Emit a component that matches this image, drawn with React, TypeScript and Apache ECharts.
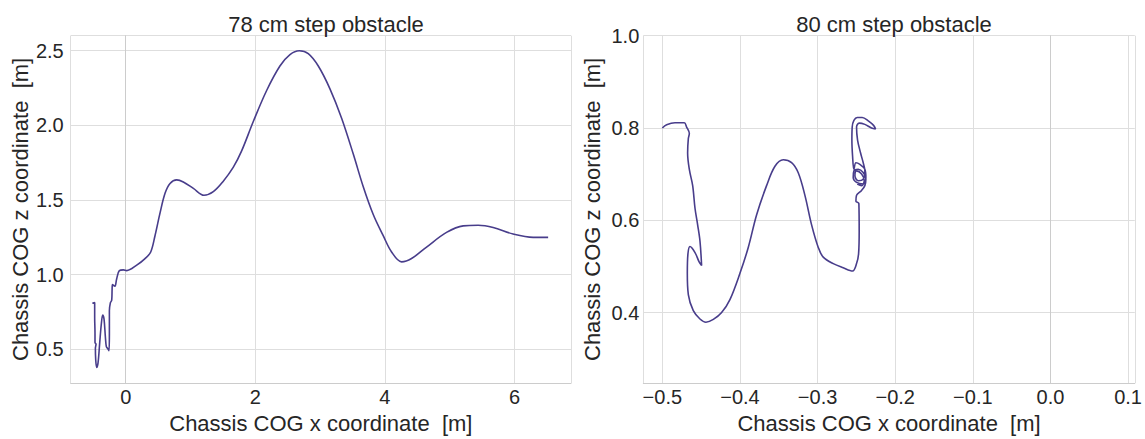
import React, { useEffect, useRef } from "react";
import * as echarts from "echarts";

const titles = ["78 cm step obstacle", "80 cm step obstacle"];
const xAxisName = "Chassis COG x coordinate  [m]";
const yAxisName = "Chassis COG z coordinate  [m]";

// 78 cm step: chassis COG trajectory [x, z]
const leftX = [
  -0.515, -0.479, -0.479, -0.474, -0.474, -0.458, -0.468, -0.463, -0.448, -0.427,
  -0.402, -0.376, -0.355, -0.335, -0.314, -0.299, -0.278, -0.258, -0.252, -0.252,
  -0.237, -0.216, -0.21, -0.205, -0.18, -0.165, -0.14, -0.098, -0.036, 0.015,
  0.17, 0.298, 0.386, 0.452, 0.53, 0.607, 0.684, 0.787, 0.889, 1.044,
  1.208, 1.352, 1.506, 1.661, 1.789, 1.969, 2.175, 2.38, 2.535, 2.679,
  2.817, 2.972, 3.152, 3.332, 3.512, 3.666, 3.82, 3.974, 4.103, 4.257,
  4.411, 4.643, 4.951, 5.208, 5.44, 5.671, 5.979, 6.288, 6.519,
];
const leftZ = [
  0.808, 0.812, 0.714, 0.605, 0.544, 0.534, 0.506, 0.429, 0.377, 0.408,
  0.539, 0.67, 0.729, 0.703, 0.583, 0.517, 0.504, 0.489, 0.605, 0.757,
  0.81, 0.828, 0.9, 0.932, 0.925, 0.921, 0.97, 1.026, 1.031, 1.026,
  1.063, 1.107, 1.151, 1.26, 1.413, 1.544, 1.61, 1.634, 1.62, 1.577,
  1.531, 1.555, 1.625, 1.719, 1.828, 2.025, 2.233, 2.397, 2.473, 2.499,
  2.48, 2.397, 2.244, 2.047, 1.807, 1.588, 1.402, 1.26, 1.151, 1.085,
  1.107, 1.184, 1.282, 1.326, 1.33, 1.315, 1.271, 1.249, 1.249,
];

// 80 cm step: chassis COG trajectory [x, z]
const rightX = [
  -0.5, -0.4944, -0.4837, -0.4717, -0.4687, -0.4652, -0.4665, -0.4674, -0.4652, -0.4609,
  -0.4579, -0.4545, -0.4515, -0.4494, -0.4524, -0.4579, -0.4644, -0.467, -0.4678, -0.4665,
  -0.4601, -0.4515, -0.4438, -0.4343, -0.4236, -0.4129, -0.4, -0.3893, -0.3785, -0.3657,
  -0.3549, -0.3442, -0.3335, -0.3249, -0.3163, -0.3077, -0.2991, -0.2927, -0.2798, -0.267,
  -0.2549, -0.2498, -0.2472, -0.2464, -0.2468, -0.2506, -0.2498, -0.2433, -0.2391, -0.2378,
  -0.2412, -0.2476, -0.2532, -0.2541, -0.2498, -0.2412, -0.2378, -0.2391, -0.2455, -0.2506,
  -0.2532, -0.2549, -0.2558, -0.2554, -0.2532, -0.2489, -0.2425, -0.2343, -0.2279, -0.2253,
  -0.2305, -0.2391, -0.2464, -0.2498, -0.2485, -0.2446, -0.2412, -0.2391, -0.2412, -0.2476,
  -0.2519, -0.2498, -0.2433, -0.2399, -0.2433, -0.2489,
];
const rightZ = [
  0.8, 0.807, 0.8113, 0.8113, 0.802, 0.788, 0.777, 0.746, 0.71, 0.675,
  0.626, 0.59, 0.555, 0.502, 0.509, 0.53, 0.543, 0.527, 0.485, 0.439,
  0.404, 0.386, 0.379, 0.385, 0.4, 0.428, 0.485, 0.541, 0.612, 0.675,
  0.717, 0.731, 0.725, 0.703, 0.654, 0.59, 0.541, 0.52, 0.506, 0.497,
  0.49, 0.506, 0.527, 0.576, 0.636, 0.6413, 0.654, 0.6646, 0.6751, 0.6892,
  0.7034, 0.7104, 0.7069, 0.6928, 0.6822, 0.6787, 0.6928, 0.7104, 0.721, 0.7245,
  0.7104, 0.7386, 0.7739, 0.8021, 0.8162, 0.8226, 0.8226, 0.8148, 0.8056, 0.7979,
  0.8, 0.8078, 0.8106, 0.8021, 0.7739, 0.7457, 0.7245, 0.7069, 0.6892, 0.6857,
  0.6963, 0.7069, 0.7, 0.6857, 0.6751, 0.6787,
];

const FONT = "'Liberation Sans', Arial, sans-serif";
const TEXT = "#262626";
const GRID = "#dedede";
const EDGE = "#cccccc";
const LINE = "#483d8b";

const minus = (s: string) => s.replace("-", "\u2212");

function axisCommon(extra: any) {
  return {
    type: "value",
    axisLine: { show: true, lineStyle: { color: EDGE, width: 1 } },
    axisTick: { show: false },
    splitLine: { show: true, lineStyle: { color: GRID, width: 1 } },
    nameLocation: "middle",
    nameTextStyle: { fontFamily: FONT, fontSize: 22, color: TEXT },
    ...extra,
  };
}

export default function App() {
  const ref = useRef<HTMLDivElement>(null);
  useEffect(() => {
    if (!ref.current) return;
    const chart = echarts.init(ref.current, undefined, { renderer: "svg" });
    const leftData = leftX.map((x, i) => [x, leftZ[i]]);
    const rightData = rightX.map((x, i) => [x, rightZ[i]]);
    const labelBase = { fontFamily: FONT, fontSize: 20, color: TEXT };
    chart.setOption({
      animation: false,
      backgroundColor: "#ffffff",
      title: [
        {
          text: titles[0],
          left: 321,
          top: 8,
          textAlign: "center",
          textStyle: { fontFamily: FONT, fontSize: 22, fontWeight: "normal", color: TEXT },
        },
        {
          text: titles[1],
          left: 889,
          top: 8,
          textAlign: "center",
          textStyle: { fontFamily: FONT, fontSize: 22, fontWeight: "normal", color: TEXT },
        },
      ],
      grid: [
        { left: 70.7, top: 35.7, width: 500.3, height: 355, containLabel: false },
        { left: 643.3, top: 35.7, width: 491.7, height: 355, containLabel: false },
      ],
      xAxis: [
        axisCommon({
          gridIndex: 0,
          min: -0.849,
          max: 6.872,
          splitNumber: 4,
          minInterval: 2,
          maxInterval: 2,
          name: xAxisName,
          nameGap: 23,
          axisLabel: {
            ...labelBase,
            margin: 4,
            showMinLabel: false,
            showMaxLabel: false,
            formatter: (v: number) => minus(String(Math.round(v))),
          },
        }),
        axisCommon({
          gridIndex: 1,
          min: -0.5245,
          max: 0.1086,
          splitNumber: 6,
          minInterval: 0.1,
          maxInterval: 0.1,
          name: xAxisName,
          nameGap: 23,
          axisLabel: {
            ...labelBase,
            margin: 4,
            showMinLabel: false,
            showMaxLabel: false,
            formatter: (v: number) => minus(v.toFixed(1)),
          },
        }),
      ],
      yAxis: [
        axisCommon({
          gridIndex: 0,
          min: 0.2725,
          max: 2.6,
          splitNumber: 5,
          minInterval: 0.5,
          maxInterval: 0.5,
          name: yAxisName,
          nameGap: 37,
          axisLabel: {
            ...labelBase,
            margin: 7,
            showMinLabel: false,
            showMaxLabel: false,
            formatter: (v: number) => v.toFixed(1),
          },
        }),
        axisCommon({
          gridIndex: 1,
          min: 0.247,
          max: 1.0,
          splitNumber: 4,
          minInterval: 0.2,
          maxInterval: 0.2,
          name: yAxisName,
          nameGap: 40,
          axisLabel: {
            ...labelBase,
            margin: 4,
            showMinLabel: false,
            showMaxLabel: true,
            formatter: (v: number) => v.toFixed(1),
          },
        }),
      ],
      series: [
        {
          type: "line",
          xAxisIndex: 0,
          yAxisIndex: 0,
          data: leftData,
          showSymbol: false,
          symbol: "none",
          smooth: 0.35,
          lineStyle: { color: LINE, width: 1.6 },
        },
        {
          type: "line",
          xAxisIndex: 1,
          yAxisIndex: 1,
          data: rightData,
          showSymbol: false,
          symbol: "none",
          smooth: 0.35,
          lineStyle: { color: LINE, width: 1.6 },
        },
      ],
    });
    return () => chart.dispose();
  }, []);
  return (
    <div
      ref={ref}
      style={{ position: "absolute", left: 0, top: 0, width: 1145, height: 439, background: "#fff" }}
    />
  );
}
